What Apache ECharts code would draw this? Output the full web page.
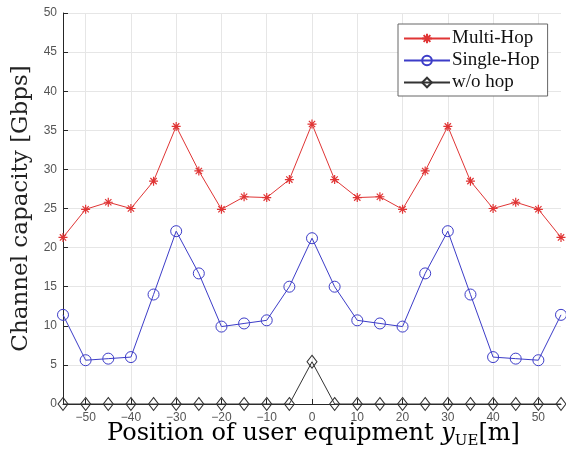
<!DOCTYPE html>
<html><head><meta charset="utf-8">
<script src="https://cdn.jsdelivr.net/npm/echarts@6/dist/echarts.min.js"></script>
<style>html,body{margin:0;padding:0;background:#fff}#c{width:566px;height:459px}</style>
</head><body><div id="c"></div>
<script>
const positions = [-55,-50,-45,-40,-35,-30,-25,-20,-15,-10,-5,0,5,10,15,20,25,30,35,40,45,50,55];
const multiHop = [21.3,24.9,25.8,25.0,28.5,35.5,29.8,24.9,26.5,26.4,28.7,35.8,28.7,26.4,26.5,24.9,29.8,35.5,28.5,25.0,25.8,24.9,21.3];
const singleHop = [11.4,5.6,5.8,6.0,14.0,22.1,16.7,9.9,10.3,10.7,15.0,21.2,15.0,10.7,10.3,9.9,16.7,22.1,14.0,6.0,5.8,5.6,11.4];
const noHop = [0,0,0,0,0,0,0,0,0,0,0,5.4,0,0,0,0,0,0,0,0,0,0,0];
const xTicks = [-50,-40,-30,-20,-10,0,10,20,30,40,50];
const seriesNames = ['Multi-Hop','Single-Hop','w/o hop'];

const pair = arr => positions.map((x,i)=>[x,arr[i]]);
const star = 'path://M0,-10L0,10M-10,0L10,0M-7,-7L7,7M-7,7L7,-7';
const serif = '"Liberation Serif","Times New Roman",serif';
const wserif = '"DejaVu Serif",serif';
const sans = '"Liberation Sans",Arial,sans-serif';

const chart = echarts.init(document.getElementById('c'));
chart.setOption({
  animation:false,
  backgroundColor:'#fff',
  grid:{left:63,right:5,top:13,bottom:55,containLabel:false,outerBoundsMode:'none'},
  legend:{
    orient:'vertical', left:398, top:24, width:151,
    backgroundColor:'#fff', borderColor:'#666', borderWidth:1,
    padding:[5,8,4,5], itemGap:3, itemWidth:46, itemHeight:12,
    textStyle:{fontFamily:serif,fontSize:19,color:'#111',padding:[0,0,0,-3]},
    data:seriesNames
  },
  xAxis:{
    type:'value', min:-55, max:55,
    axisLine:{show:true,onZero:false,lineStyle:{color:'#262626',width:1}},
    axisTick:{show:true,inside:true,length:5,customValues:xTicks,lineStyle:{color:'#262626'}},
    axisLabel:{customValues:xTicks,color:'#555',fontFamily:sans,fontSize:12,margin:8,
      formatter:v=>v<0?'\u2212'+(-v):String(v)},
    splitLine:{show:true,lineStyle:{color:'#e6e6e6'}}
  },
  yAxis:{
    type:'value', min:0, max:50, interval:5,
    name:'Channel capacity [Gbps]', nameLocation:'middle', nameGap:29,
    nameTextStyle:{fontFamily:wserif,fontSize:23,color:'#222'},
    axisLine:{show:true,onZero:false,lineStyle:{color:'#262626',width:1}},
    axisTick:{show:true,inside:true,length:5,lineStyle:{color:'#262626'}},
    axisLabel:{color:'#555',fontFamily:sans,fontSize:12,margin:6},
    splitLine:{show:true,lineStyle:{color:'#e6e6e6'}}
  },
  graphic:[{
    type:'text', left:107, top:422,
    style:{
      text:'{a|Position of user equipment }{i|y}{s|UE}{a|[m]}',
      rich:{
        a:{fontFamily:wserif,fontSize:24,color:'#222',lineHeight:30},
        i:{fontFamily:wserif,fontSize:24,fontStyle:'italic',color:'#222',lineHeight:30},
        s:{fontFamily:wserif,fontSize:15,color:'#222',lineHeight:15,verticalAlign:'bottom'}
      }
    }
  }],
  series:[
    {name:seriesNames[0],type:'line',data:pair(multiHop),symbol:star,symbolSize:9,
     lineStyle:{color:'#e03535',width:1},itemStyle:{color:'#e03535',borderColor:'#e03535',borderWidth:1.2},z:3},
    {name:seriesNames[1],type:'line',data:pair(singleHop),symbol:'circle',symbolSize:11,
     lineStyle:{color:'#3c3cc8',width:1},itemStyle:{color:'rgba(255,255,255,0)',borderColor:'#3c3cc8',borderWidth:1},z:3},
    {name:seriesNames[2],type:'line',data:pair(noHop),symbol:'diamond',symbolSize:[10,13],
     lineStyle:{color:'#333',width:1},itemStyle:{color:'rgba(255,255,255,0)',borderColor:'#333',borderWidth:1},z:3,clip:false}
  ]
});
</script></body></html>
